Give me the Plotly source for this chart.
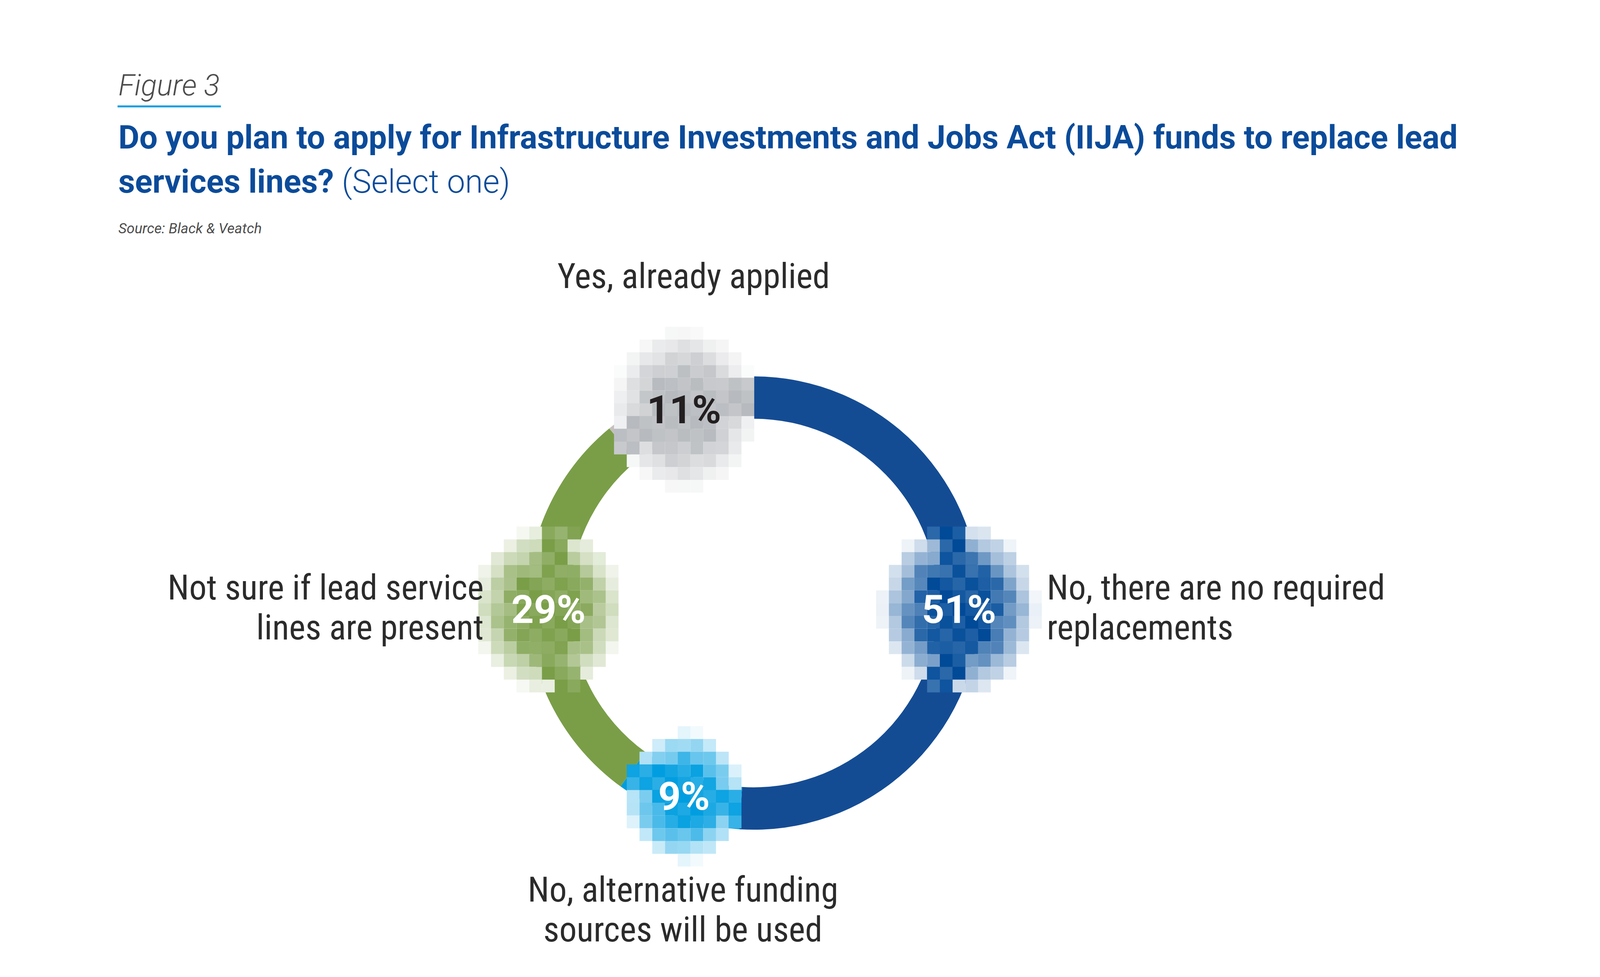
import math
import plotly.graph_objects as go

# ---------------- data ----------------
categories = [
    "No, there are no required replacements",
    "No, alternative funding sources will be used",
    "Not sure if lead service lines are present",
    "Yes, already applied",
]
values = [51, 9, 29, 11]
pct_labels = ["51%", "9%", "29%", "11%"]

# outer label lines per category
label_lines = [
    ["No, there are no required", "replacements"],
    ["No, alternative funding", "sources will be used"],
    ["Not sure if lead service", "lines are present"],
    ["Yes, already applied"],
]

# ---------------- style / layout ----------------
ring_colors = ["#144c94", "#009ddc", "#7a9e48", "#c4c0bb"]
tile_rgb = [(0, 74, 152), (0, 158, 224), (122, 158, 72), (183, 186, 190)]
pct_font_colors = ["#ffffff", "#ffffff", "#ffffff", "#231f20"]
blob_radius = [6.3, 4.8, 6.1, 5.9]  # in tiles

# reference layout (reference-photo pixels)
REF_W, REF_H = 4750, 2500
W, H = 4080, 2484                 # figure size in CSS px
SX, SY = W / REF_W, H / REF_H     # fractional mapping
FS = 0.9                           # font scale

REF_CX, REF_CY, REF_R = 2237, 1545, 631
CX, CY = REF_CX * SX, REF_CY * SY
R = 580
KR = R / REF_R                     # scale for ring-relative geometry
KV = 1.0                           # vertical scale for outer label offsets
HOLE = 0.813
TILE = 35.5 * KR

COND = "Roboto Condensed, Liberation Sans Narrow, Arial Narrow, DejaVu Sans Condensed, sans-serif"
TEXT_DARK = "#2b2b2b"
TITLE_BLUE = "#0a4b9a"


def px(x):
    return x / W


def py(y):
    return 1 - y / H


fig = go.Figure()
fig.add_trace(go.Pie(
    labels=categories,
    values=values,
    sort=False,
    direction="clockwise",
    rotation=0,
    hole=HOLE,
    marker=dict(colors=ring_colors, line=dict(width=0)),
    textinfo="none",
    hoverinfo="label+percent",
    showlegend=False,
    domain=dict(x=[px(CX - R), px(CX + R)], y=[py(CY + R), py(CY - R)]),
))

# ---------------- label positions from data ----------------
total = sum(values)
r_lab = R * (1 + HOLE) / 2
label_pos = []
cum = 0
for v in values:
    theta = 2 * math.pi * (cum + v / 2) / total
    label_pos.append((CX + r_lab * math.sin(theta), CY - r_lab * math.cos(theta)))
    cum += v

# ---------------- pixel mosaic behind percentage labels ----------------
shapes = []
r_in, r_out = R * HOLE, R
for k, (lx, ly) in enumerate(label_pos):
    base = tile_rgb[k]
    rb = blob_radius[k]
    core = 0.45 * rb
    n = int(math.ceil(rb)) + 1
    for i in range(-n, n + 1):
        for j in range(-n, n + 1):
            d = math.hypot(i, j / 1.1)
            if d > rb:
                continue
            if d <= core:
                a = 1.0
            else:
                a = 1 - ((d - core) / (rb - core)) ** 1.1
            var = ((i * 7 + j * 13) % 5) / 4.0
            a = a * (1 - 0.28 * var) if a < 1 else 1 - 0.15 * var
            tx, ty = lx + i * TILE, ly + j * TILE
            dist = math.hypot(tx - CX, ty - CY)
            if r_in + TILE * 0.5 < dist < r_out - TILE * 0.5:
                a = max(a, 0.78 + 0.22 * (1 - var))
            if a < 0.05:
                continue
            col = tuple(int(round(c * a + 255 * (1 - a))) for c in base)
            shapes.append(dict(
                type="rect", xref="paper", yref="paper", layer="above",
                x0=px(tx - TILE / 2), x1=px(tx + TILE / 2),
                y0=py(ty + TILE / 2), y1=py(ty - TILE / 2),
                line=dict(width=0),
                fillcolor="rgb(%d,%d,%d)" % col,
            ))

# figure underline
shapes.append(dict(type="line", xref="paper", yref="paper",
                   x0=px(341 * SX), x1=px(341 * SX + 294 * FS), y0=py(266 * SY), y1=py(266 * SY),
                   line=dict(color="#139fe0", width=5)))

annotations = []
# percentage labels
for k, (lx, ly) in enumerate(label_pos):
    annotations.append(dict(
        x=px(lx), y=py(ly), xref="paper", yref="paper",
        text=pct_labels[k], showarrow=False, xanchor="center", yanchor="middle",
        font=dict(family="Roboto, sans-serif", size=112 * FS, color=pct_font_colors[k], weight=700),
    ))

# outer labels: reference (x, first-line y, xanchor), placed relative to ring centre
outer_anchor = [
    (3051, 1505, "left"),
    (2040, 2278, "center"),
    (1487, 1505, "right"),
    (2069, 708, "center"),
]
LINE_GAP = 102
for k, lines in enumerate(label_lines):
    rx, ry, anc = outer_anchor[k]
    x0 = CX + (rx - REF_CX) * KR
    y0 = CY + (ry - REF_CY) * KV
    for m, line in enumerate(lines):
        annotations.append(dict(
            x=px(x0), y=py(y0 + m * LINE_GAP), xref="paper", yref="paper",
            text=line, showarrow=False, xanchor=anc, yanchor="middle",
            font=dict(family=COND, size=99 * FS, color=TEXT_DARK),
        ))

# titles
TX = 341 * SX
annotations += [
    dict(x=px(TX), y=py(211 * SY), xref="paper", yref="paper", showarrow=False,
         xanchor="left", yanchor="middle", text="Figure 3",
         font=dict(family="Roboto, sans-serif", size=84 * FS, color="#4d4d4d", style="italic", weight=300)),
    dict(x=px(TX), y=py(346 * SY), xref="paper", yref="paper", showarrow=False,
         xanchor="left", yanchor="middle",
         text="<b>Do you plan to apply for Infrastructure Investments and Jobs Act (IIJA) funds to replace lead</b>",
         font=dict(family="Roboto, sans-serif", size=92 * FS, color=TITLE_BLUE)),
    dict(x=px(TX), y=py(459 * SY), xref="paper", yref="paper", showarrow=False,
         xanchor="left", yanchor="middle",
         text="<b>services lines?</b> (Select one)",
         font=dict(family="Roboto, sans-serif", size=92 * FS, color=TITLE_BLUE, weight=300)),
    dict(x=px(TX), y=py(580 * SY), xref="paper", yref="paper", showarrow=False,
         xanchor="left", yanchor="middle", text="Source: Black &amp; Veatch",
         font=dict(family="Roboto, sans-serif", size=41 * FS, color="#4d4d4d", style="italic")),
]

fig.update_layout(
    width=W, height=H,
    margin=dict(l=0, r=0, t=0, b=0),
    paper_bgcolor="white", plot_bgcolor="white",
    shapes=shapes, annotations=annotations,
    showlegend=False,
)

fig.write_html("out.html")
